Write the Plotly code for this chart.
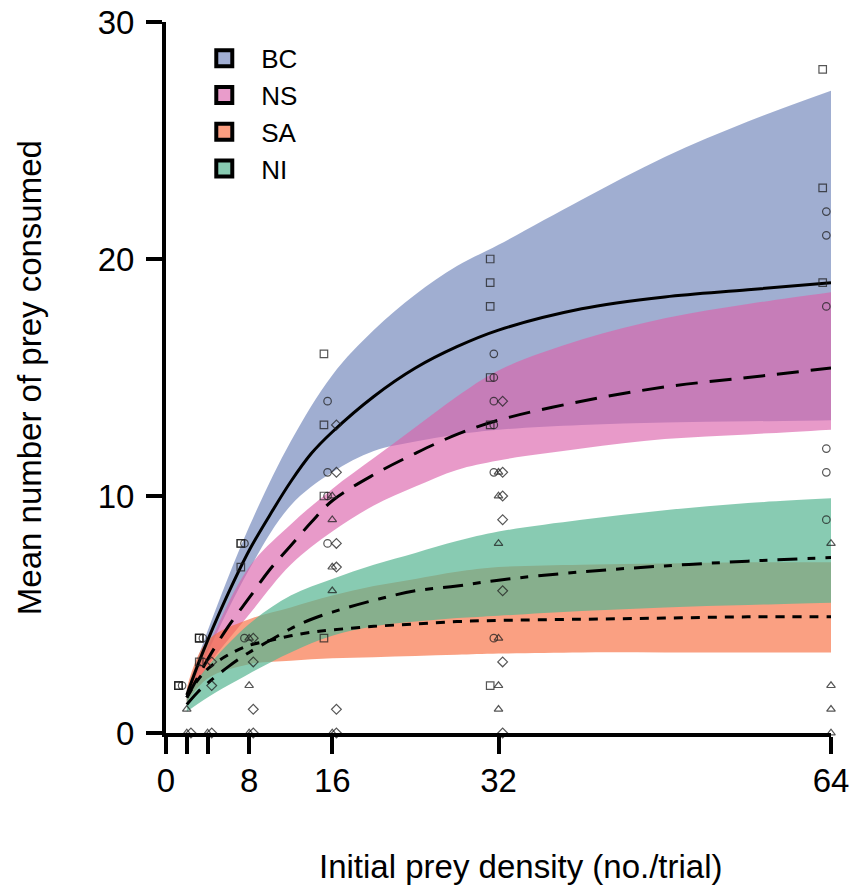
import plotly.graph_objects as go

# ---------------- data ----------------
curve_x = [2, 3, 4, 6, 8, 10, 12, 14, 16, 20, 24, 28, 32, 40, 48, 56, 64]
bc_fit = [1.6, 2.8, 3.9, 5.9, 7.7, 9.2, 10.6, 11.8, 12.7, 14.2, 15.4, 16.3, 17.0, 17.9, 18.4, 18.7, 19.0]
ns_fit = [1.5, 2.3, 3.1, 4.5, 5.7, 6.9, 7.9, 8.9, 9.8, 10.9, 11.8, 12.6, 13.2, 14.0, 14.6, 15.0, 15.4]
sa_fit = [1.5, 2.2, 2.7, 3.3, 3.7, 3.9, 4.1, 4.25, 4.35, 4.5, 4.6, 4.7, 4.75, 4.8, 4.85, 4.9, 4.9]
ni_fit = [1.2, 1.7, 2.1, 2.8, 3.4, 3.9, 4.4, 4.8, 5.1, 5.6, 6.0, 6.2, 6.45, 6.8, 7.05, 7.25, 7.4]

band_x = [2, 4, 8, 12, 16, 20, 24, 28, 32, 40, 48, 56, 64]
bc_hi = [1.8, 4.3, 8.7, 12.3, 15.1, 17.0, 18.5, 19.7, 20.6, 22.5, 24.3, 25.8, 27.1]
bc_lo = [1.5, 3.4, 6.9, 9.6, 11.0, 11.9, 12.3, 12.6, 12.8, 13.0, 13.1, 13.15, 13.2]
ns_hi = [1.6, 3.6, 7.0, 8.8, 10.3, 11.6, 12.9, 14.2, 15.3, 16.6, 17.5, 18.1, 18.6]
ns_lo = [1.3, 2.8, 5.0, 7.1, 8.5, 9.6, 10.4, 11.1, 11.5, 12.0, 12.4, 12.6, 12.8]
sa_hi = [1.9, 3.9, 4.8, 5.3, 5.8, 6.2, 6.5, 6.8, 7.0, 7.1, 7.15, 7.2, 7.2]
sa_lo = [1.3, 2.3, 2.9, 3.05, 3.15, 3.2, 3.25, 3.3, 3.35, 3.4, 3.4, 3.4, 3.4]
ni_hi = [1.6, 2.8, 4.6, 5.8, 6.5, 7.1, 7.6, 8.1, 8.5, 9.0, 9.4, 9.7, 9.9]
ni_lo = [0.9, 1.5, 2.5, 3.4, 4.1, 4.5, 4.7, 4.85, 4.95, 5.15, 5.3, 5.4, 5.5]

# observed prey consumed, by initial density
bc_obs = {2: [2, 2, 2], 4: [4, 4, 4, 3], 8: [8, 8, 7], 16: [16, 13, 10, 4],
          32: [20, 19, 18, 15, 13, 2], 64: [28, 23, 19]}
ns_obs = {2: [2], 4: [4, 3], 8: [8, 4], 16: [14, 11, 10, 8],
          32: [16, 15, 14, 13, 11, 4], 64: [22, 21, 18, 12, 11, 9]}
sa_obs = {2: [1, 0], 4: [0], 8: [4, 2, 0], 16: [10, 9, 7, 6, 0],
          32: [11, 10, 8, 4, 2, 1], 64: [8, 2, 1, 0]}
ni_obs = {2: [0], 4: [3, 2, 0], 8: [4, 3, 1, 0], 16: [13, 11, 8, 7, 1, 0],
          32: [14, 11, 10, 9, 6, 3, 0], 64: [11, 8, 7, 6, 5, 3, 1, 0]}

groups = ["BC", "NS", "SA", "NI"]
fills = ["rgba(107,128,183,0.64)", "rgba(219,97,171,0.64)",
         "rgba(247,107,60,0.64)", "rgba(85,181,145,0.70)"]
legend_cols = ["#a1aed3", "#e99ccb", "#fb9e80", "#88cbb2"]
dashes = ["solid", "22px,12px", "9px,8px", "20px,10px,8px,10px"]
symbols = ["square-open", "circle-open", "triangle-up-open", "diamond-open"]
x_offsets = [-0.8, -0.45, 0.0, 0.4]

x_ticks = [0, 2, 4, 8, 16, 32, 64]
x_ticktext = ["0", "", "", "8", "16", "32", "64"]
y_ticks = [0, 10, 20, 30]

FONT = "Liberation Sans, Arial, Helvetica, sans-serif"

fig = go.Figure()

bands = [(bc_lo, bc_hi), (ns_lo, ns_hi), (sa_lo, sa_hi), (ni_lo, ni_hi)]
for (lo, hi), col in zip(bands, fills):
    fig.add_trace(go.Scatter(x=band_x, y=lo, mode="lines", line=dict(width=0, shape="spline"),
                             showlegend=False, hoverinfo="skip"))
    fig.add_trace(go.Scatter(x=band_x, y=hi, mode="lines", line=dict(width=0, shape="spline"),
                             fill="tonexty", fillcolor=col, showlegend=False, hoverinfo="skip"))

fits = [bc_fit, ns_fit, sa_fit, ni_fit]
for fit, dash in zip(fits, dashes):
    fig.add_trace(go.Scatter(x=curve_x, y=fit, mode="lines",
                             line=dict(color="black", width=3, dash=dash, shape="spline"),
                             showlegend=False))

obs = [bc_obs, ns_obs, sa_obs, ni_obs]
for o, sym, off in zip(obs, symbols, x_offsets):
    xs, ys = [], []
    for d, vals in o.items():
        for v in vals:
            xs.append(d + off)
            ys.append(v)
    fig.add_trace(go.Scatter(x=xs, y=ys, mode="markers", cliponaxis=False, showlegend=False,
                             marker=dict(symbol=sym, size=7.5, color="rgba(30,30,30,0.75)",
                                         line=dict(width=1.2, color="rgba(30,30,30,0.75)"))))

# legend entries
for g, c in zip(groups, legend_cols):
    fig.add_trace(go.Scatter(x=[None], y=[None], mode="markers", name=g,
                             marker=dict(symbol="square", size=16, color=c,
                                         line=dict(width=4, color="black"))))

fig.update_layout(
    width=851, height=886,
    margin=dict(l=166, r=20, t=22, b=153),
    paper_bgcolor="white", plot_bgcolor="white",
    font=dict(family=FONT, color="black", size=33),
    legend=dict(x=0.032, y=0.982, xanchor="left", yanchor="top", traceorder="normal",
                font=dict(size=26), itemwidth=64, bgcolor="rgba(0,0,0,0)",
                tracegroupgap=0),
    xaxis=dict(range=[0, 64], tickvals=x_ticks, ticktext=x_ticktext, automargin=False,
               showgrid=False, zeroline=False, showline=True, linewidth=4, linecolor="black",
               ticks="outside", ticklen=17, tickwidth=4, tickcolor="black",
               tickfont=dict(size=33), ticklabelstandoff=-2),
    yaxis=dict(range=[0, 30], tickvals=y_ticks, automargin=False,
               showgrid=False, zeroline=False, showline=True, linewidth=4, linecolor="black",
               ticks="outside", ticklen=16, tickwidth=4, tickcolor="black",
               tickfont=dict(size=33), ticklabelstandoff=5),
    annotations=[
        dict(text="Initial prey density (no./trial)", xref="paper", yref="paper",
             x=0.534, y=-0.188, xanchor="center", yanchor="middle", showarrow=False,
             font=dict(size=33)),
        dict(text="Mean number of prey consumed", xref="paper", yref="paper",
             x=-0.205, y=0.5, xanchor="center", yanchor="middle", textangle=-90,
             showarrow=False, font=dict(size=33)),
    ],
)

fig.write_html("out.html", config={"displayModeBar": False},
               post_script="document.body.style.margin='0';")
